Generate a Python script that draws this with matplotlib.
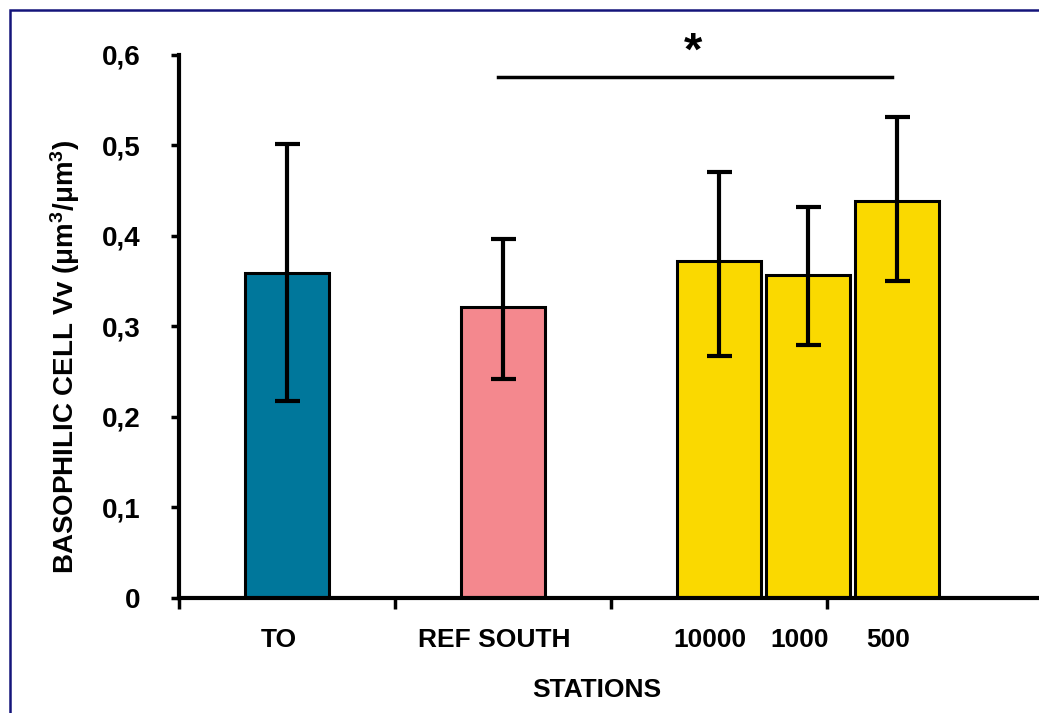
import numpy as np
import matplotlib
matplotlib.use("Agg")
import matplotlib.pyplot as plt
from matplotlib.patches import Rectangle

# Dados
estacoes = ['TO', 'REF SOUTH', '10000', '1000', '500']
medias = [0.359, 0.321, 0.372, 0.357, 0.439]
erro_sup = [0.143, 0.076, 0.099, 0.075, 0.092]
erro_inf = [0.141, 0.079, 0.105, 0.078, 0.089]
cores = ['#00779B', '#F4888E', '#FAD900', '#FAD900', '#FAD900']
yticks = [0, 0.1, 0.2, 0.3, 0.4, 0.5, 0.6]
ytick_labels = ['0', '0,1', '0,2', '0,3', '0,4', '0,5', '0,6']

plt.rcParams['font.family'] = ['Liberation Sans', 'DejaVu Sans']
plt.rcParams['font.weight'] = 'bold'
plt.rcParams['mathtext.fontset'] = 'custom'
plt.rcParams['mathtext.rm'] = 'Liberation Sans:bold'
plt.rcParams['mathtext.it'] = 'Liberation Sans:bold'
plt.rcParams['mathtext.bf'] = 'Liberation Sans:bold'

fig = plt.figure(figsize=(10.39, 7.13), dpi=100)
ax = fig.add_axes([0.1723, 0.1616, 0.8316, 0.7613])

# posições: três grupos, os três últimos lado a lado
passo = 0.412
pos = np.array([0.5, 1.5, 2.5, 2.5 + passo, 2.5 + 2 * passo])

ax.bar(pos, medias, width=0.39, color=cores, edgecolor='black', linewidth=2.2, zorder=2)
ax.errorbar(pos, medias, yerr=[erro_inf, erro_sup], fmt='none', ecolor='black',
            elinewidth=3, capsize=9, capthick=3, zorder=3)

ax.set_xlim(0, 4)
ax.set_ylim(0, 0.6)
ax.set_yticks(yticks)
ax.set_yticklabels(ytick_labels, fontsize=20)
ax.set_xticks([0, 1, 2, 3, 4])
ax.set_xticklabels([])
ax.set_xticks(pos - 0.04, minor=True)
ax.set_xticklabels(estacoes, minor=True, fontsize=19)
ax.tick_params(axis='x', which='minor', length=0, pad=22)
ax.tick_params(axis='x', which='major', direction='out', length=8, width=2.5)
ax.tick_params(axis='y', direction='out', length=6, width=2.5, pad=22)

for lado in ['top', 'right']:
    ax.spines[lado].set_visible(False)
ax.spines['left'].set_linewidth(3)
ax.spines['bottom'].set_linewidth(3)

# barra de significância entre REF SOUTH e 500
ax.plot([pos[1] - 0.025, pos[4] - 0.025], [0.576, 0.576], color='black', lw=2.5,
        clip_on=False)
ax.text((pos[1] + pos[4]) / 2 - 0.03, 0.603, '*', ha='center', va='center',
        fontsize=34, clip_on=False)

fig.text(65 / 1039, 0.5, r'BASOPHILIC CELL Vv ($\mu$m$^3$/$\mu$m$^3$)', rotation=90,
         ha='center', va='center', fontsize=20)
fig.text(597 / 1039, 1 - 690 / 713, 'STATIONS', ha='center', va='center', fontsize=19)

# moldura azul-marinho
fig.patches.append(Rectangle((9.5 / 1039, -0.1), 1.2, 1 - 9.5 / 713 + 0.1,
                             transform=fig.transFigure, fill=False,
                             edgecolor='#14147A', linewidth=1.8))

fig.savefig('out.png', dpi=100)
